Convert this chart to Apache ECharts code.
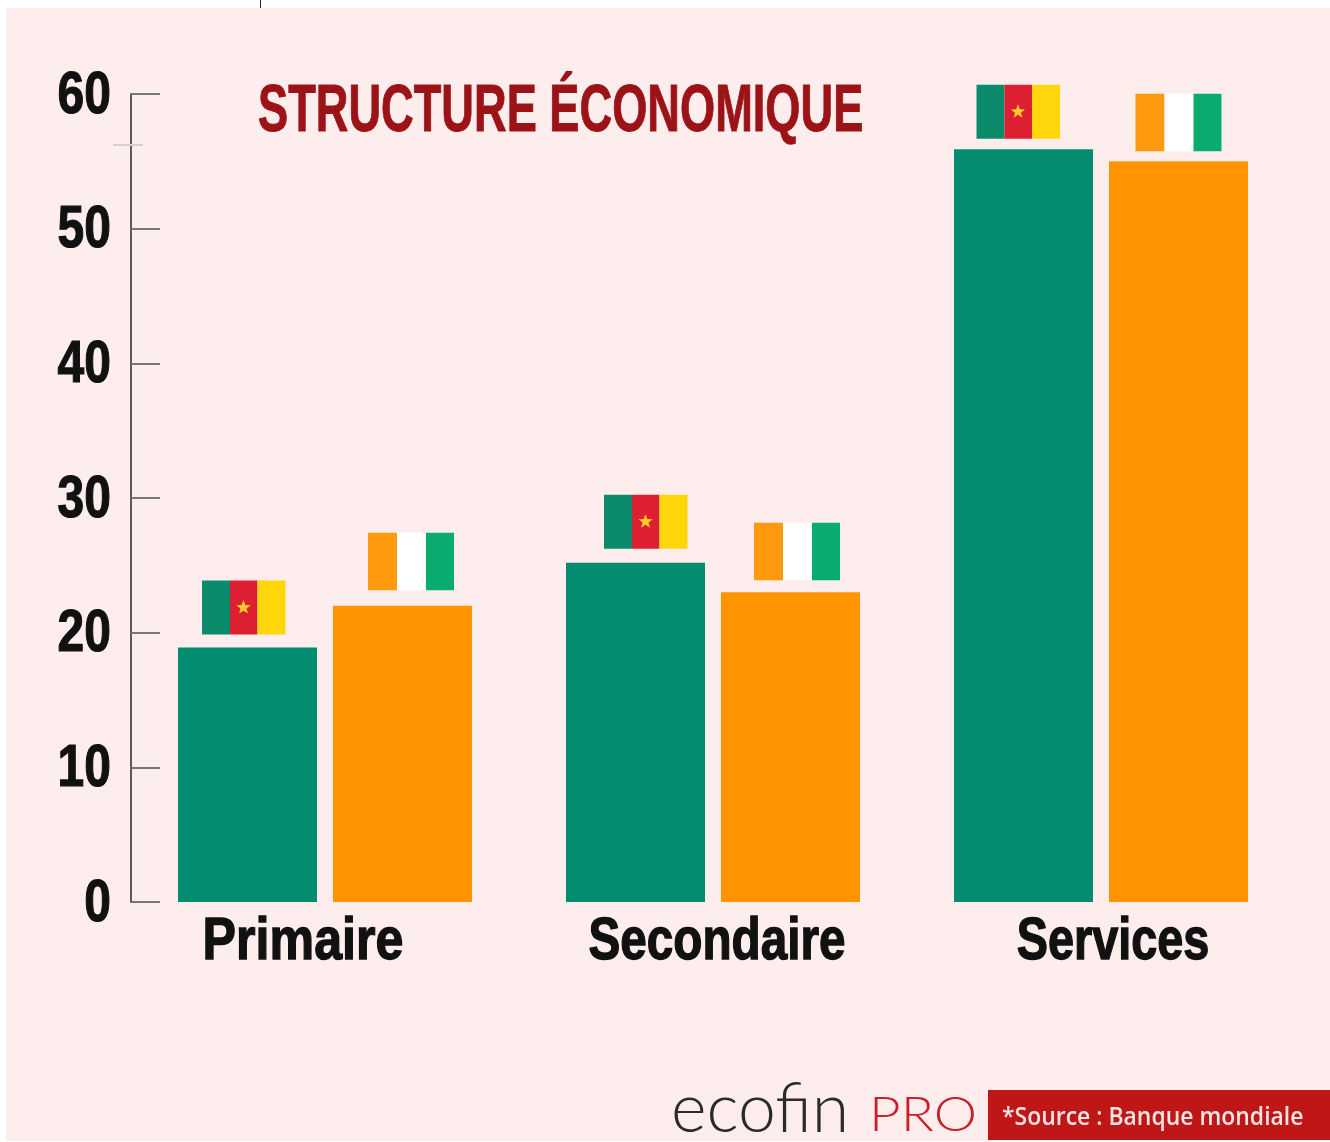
<!DOCTYPE html>
<html><head><meta charset="utf-8">
<style>html,body{margin:0;padding:0;background:#fff}#c{width:1330px;height:1142px}</style>
<script src="https://cdn.jsdelivr.net/npm/echarts@6/dist/echarts.min.js"></script>
</head><body><div id="c"></div>
<script>
const categories = ['Primaire', 'Secondaire', 'Services'];
const cameroun = [18.9, 25.2, 55.9];
const coteIvoire = [22, 23, 55];
const yTicks = [0, 10, 20, 30, 40, 50, 60];
const titleText = 'STRUCTURE ÉCONOMIQUE';
const sourceText = '*Source : Banque mondiale';

const labelShift = [-22, 4, 12];
const labelSquash = [0.836, 0.795, 0.78];
const camFlagDx = [-81.5, -67.5, -83];
const civFlagDx = [86, 84, 77.5];
const camFlagGap = [13, 14, 10.5];
const civFlagGap = [15.5, 12, 10];

const SANS = '"Liberation Sans",sans-serif';
const chart = echarts.init(document.getElementById('c'), null, {renderer: 'canvas'});

function star(cx, cy, r) {
  const pts = [];
  for (let i = 0; i < 10; i++) {
    const rad = i % 2 ? r * 0.42 : r, a = -Math.PI / 2 + i * Math.PI / 5;
    pts.push([cx + rad * Math.cos(a), cy + rad * Math.sin(a)]);
  }
  return pts;
}
function rect(x, y, w, h, fill) {
  return {type: 'rect', shape: {x, y, width: w, height: h}, style: {fill}};
}
function camFlag(params, api) {
  const i = params.dataIndex, p = api.coord([i, api.value(1)]);
  const x = p[0] + camFlagDx[i] - 41.5, b = p[1] - camFlagGap[i], h = 54, y = b - h;
  return {type: 'group', children: [
    rect(x, y, 28, h, '#0b8a6c'), rect(x + 28, y, 27.5, h, '#dc2031'), rect(x + 55.5, y, 28, h, '#ffd60a'),
    {type: 'polygon', shape: {points: star(x + 41.5, y + 27, 7.5)}, style: {fill: '#ffc92e'}}
  ]};
}
function civFlag(params, api) {
  const i = params.dataIndex, p = api.coord([i, api.value(1)]);
  const x = p[0] + civFlagDx[i] - 43, b = p[1] - civFlagGap[i], h = 57.5, y = b - h;
  return {type: 'group', children: [
    rect(x, y, 29, h, '#ff9a0e'), rect(x + 29, y, 29, h, '#ffffff'), rect(x + 58, y, 28, h, '#0aab6f')
  ]};
}
function tickLabel(params, api) {
  const p = api.coord([0, api.value(0)]);
  return {type: 'text', x: 111, y: p[1] + 2, scaleX: 0.8, style: {
    text: String(api.value(0)), fontFamily: SANS, fontWeight: 'bold', fontSize: 60, fill: '#111111',
    stroke: '#111111', lineWidth: 1.2, textAlign: 'right', textVerticalAlign: 'middle'}};
}
function catLabel(params, api) {
  const i = params.dataIndex, p = api.coord([i, 0]);
  return {type: 'text', x: p[0] + labelShift[i], y: p[1] + 40, scaleX: labelSquash[i], style: {
    text: categories[i], fontFamily: SANS, fontWeight: 'bold', fontSize: 60, fill: '#111111',
    stroke: '#111111', lineWidth: 1.4, textAlign: 'center', textVerticalAlign: 'middle'}};
}

chart.setOption({
  animation: false,
  backgroundColor: '#ffffff',
  grid: {left: 131, right: 35, top: 94, bottom: 240, containLabel: false},
  xAxis: {
    type: 'category', data: categories,
    axisLine: {show: false}, axisTick: {show: false}, axisLabel: {show: false}
  },
  yAxis: {
    type: 'value', min: yTicks[0], max: yTicks[yTicks.length - 1], interval: yTicks[1] - yTicks[0],
    splitLine: {show: false},
    axisLine: {show: true, lineStyle: {color: '#5a5a5a', width: 2}},
    axisTick: {show: true, inside: true, length: 29, lineStyle: {color: '#777777', width: 2}},
    axisLabel: {show: false}
  },
  series: [
    {name: 'Cameroun', type: 'bar', data: cameroun, barWidth: 139, barGap: '11.5%', itemStyle: {color: '#048c70'}},
    {name: "Côte d'Ivoire", type: 'bar', data: coteIvoire, barWidth: 139, barGap: '11.5%', itemStyle: {color: '#ff9400'}},
    {type: 'custom', coordinateSystem: 'cartesian2d', renderItem: camFlag, data: cameroun.map((v, i) => [i, v]), z: 5},
    {type: 'custom', coordinateSystem: 'cartesian2d', renderItem: civFlag, data: coteIvoire.map((v, i) => [i, v]), z: 5},
    {type: 'custom', coordinateSystem: 'cartesian2d', clip: false, silent: true, renderItem: tickLabel,
      encode: {x: 1, y: 0}, data: yTicks.map(v => [v, 0]), z: 6},
    {type: 'custom', coordinateSystem: 'cartesian2d', clip: false, silent: true, renderItem: catLabel,
      data: categories.map((c, i) => [i, 0]), z: 6}
  ],
  graphic: [
    {type: 'rect', z: -10, silent: true, shape: {x: 6, y: 8, width: 1324, height: 1133}, style: {fill: '#fdeded'}},
    {type: 'rect', z: 1, silent: true, shape: {x: 260, y: 0, width: 1, height: 8}, style: {fill: '#222222'}},
    {type: 'rect', z: 1, silent: true, shape: {x: 113, y: 144, width: 30, height: 2}, style: {fill: '#d9cfcf'}},
    {type: 'text', z: 10, x: 258, y: 113, scaleX: 0.685, style: {text: titleText, fontFamily: SANS, fontWeight: 'bold', fontSize: 66,
      fill: '#9b1316', stroke: '#9b1316', lineWidth: 1, textAlign: 'left', textVerticalAlign: 'middle'}},
    {type: 'text', z: 10, x: 671, y: 1110, style: {text: 'ecofin', fontFamily: 'Lato', fontWeight: 300, fontSize: 68,
      fill: '#2b2b2b', textAlign: 'left', textVerticalAlign: 'middle'}},
    {type: 'text', z: 10, x: 869, y: 1116, scaleX: 1.14, style: {text: 'PRO', fontFamily: 'Lato', fontWeight: 300, fontSize: 48,
      fill: '#c8202a', textAlign: 'left', textVerticalAlign: 'middle'}},
    {type: 'rect', z: 9, silent: true, shape: {x: 988, y: 1090, width: 342, height: 50}, style: {fill: '#bf1717'}},
    {type: 'text', z: 10, x: 1002, y: 1118, scaleX: 0.882, style: {text: sourceText, fontFamily: '"Open Sans"', fontWeight: 600, fontSize: 26,
      fill: '#f6e4e0', textAlign: 'left', textVerticalAlign: 'middle'}}
  ]
});
</script></body></html>
